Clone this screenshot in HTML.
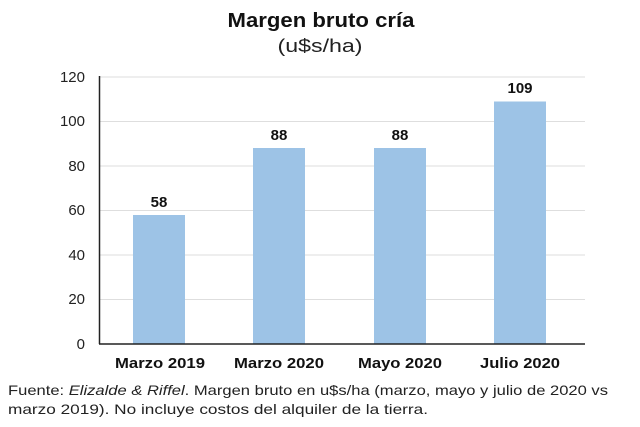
<!DOCTYPE html>
<html><head><style>
body{margin:0;background:#fff;width:640px;height:422px;overflow:hidden;font-family:"Liberation Sans",sans-serif}
</style></head><body>
<svg width="640" height="422" xmlns="http://www.w3.org/2000/svg" font-family="Liberation Sans, sans-serif">
<text x="321" y="27" text-anchor="middle" font-size="20" font-weight="bold" fill="#111" textLength="187" lengthAdjust="spacingAndGlyphs">Margen bruto cría</text>
<text x="320" y="52" text-anchor="middle" font-size="18" fill="#222" textLength="85" lengthAdjust="spacingAndGlyphs">(u$s/ha)</text>
<g stroke="#dedede" stroke-width="1">
<line x1="100" y1="77" x2="585" y2="77"/>
<line x1="100" y1="121.5" x2="585" y2="121.5"/>
<line x1="100" y1="166" x2="585" y2="166"/>
<line x1="100" y1="210.5" x2="585" y2="210.5"/>
<line x1="100" y1="255" x2="585" y2="255"/>
<line x1="100" y1="299.5" x2="585" y2="299.5"/>
</g>
<g fill="#9dc3e6">
<rect x="133" y="215" width="52" height="129"/>
<rect x="253" y="148" width="52" height="196"/>
<rect x="374" y="148" width="52" height="196"/>
<rect x="494" y="101.5" width="52" height="242.5"/>
</g>
<line x1="99.5" y1="76" x2="99.5" y2="344" stroke="#222" stroke-width="1.5"/>
<line x1="99" y1="344" x2="585" y2="344" stroke="#222" stroke-width="1.5"/>
<g font-size="15" text-anchor="end" fill="#222">
<text x="85" y="82">120</text><text x="85" y="126">100</text><text x="85" y="171">80</text>
<text x="85" y="215">60</text><text x="85" y="260">40</text><text x="85" y="304">20</text><text x="85" y="349">0</text>
</g>
<g font-size="15" font-weight="bold" text-anchor="middle" fill="#111">
<text x="159" y="207">58</text><text x="279" y="140">88</text><text x="400" y="140">88</text><text x="520" y="93">109</text>
<text x="160" y="368" textLength="90" lengthAdjust="spacingAndGlyphs">Marzo 2019</text>
<text x="279" y="368" textLength="90" lengthAdjust="spacingAndGlyphs">Marzo 2020</text>
<text x="400" y="368" textLength="84" lengthAdjust="spacingAndGlyphs">Mayo 2020</text>
<text x="520" y="368" textLength="80" lengthAdjust="spacingAndGlyphs">Julio 2020</text>
</g>
<g font-size="14" fill="#222">
<text x="8" y="395" textLength="600" lengthAdjust="spacingAndGlyphs">Fuente: <tspan font-style="italic">Elizalde &amp; Riffel</tspan>. Margen bruto en u$s/ha (marzo, mayo y julio de 2020 vs</text>
<text x="8" y="414" textLength="420" lengthAdjust="spacingAndGlyphs">marzo 2019). No incluye costos del alquiler de la tierra.</text>
</g>
</svg>
</body></html>
